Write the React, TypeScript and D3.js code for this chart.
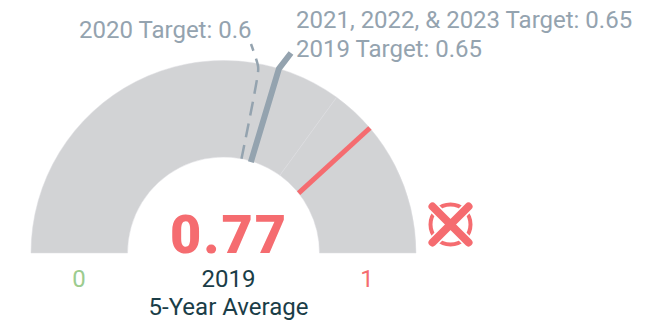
import React from "react";
import * as d3 from "d3";

const bands = [
  { from: 0, to: 0.7 },
  { from: 0.7, to: 1 },
];
const actualInner = 0.786;
const actualOuter = 0.775;
const actualLabel = "0.77";
const solidTargetPosition = 0.593;
const dashedTargetPosition = 0.56;
const targetLabels = ["2020 Target: 0.6", "2021, 2022, & 2023 Target: 0.65", "2019 Target: 0.65"];
const minLabel = "0";
const maxLabel = "1";
const yearLabel = "2019";
const averageLabel = "5-Year Average";

const W = 652, H = 322;
const cx = 223.5, cy = 253, rIn = 96, rOut = 192.5;
const red = "#f56c70", grey = "#d2d3d5", slate = "#94a3af", dark = "#1a3d47";
const font = "Roboto, sans-serif";

const angle = d3.scaleLinear().domain([0, 1]).range([-Math.PI / 2, Math.PI / 2]);
const arc = d3.arc<{ from: number; to: number }>()
  .innerRadius(rIn).outerRadius(rOut)
  .startAngle(d => angle(d.from)).endAngle(d => angle(d.to));
const pt = (v: number, r: number): [number, number] => {
  const a = angle(v);
  return [cx + r * Math.sin(a), cy - r * Math.cos(a)];
};
const line = d3.line();

export default function App() {
  return (
    <svg width={W} height={H} style={{ position: "absolute", left: 0, top: 0 }} fontFamily={font}>
      <g transform={`translate(${cx},${cy})`}>
        {bands.map((b, i) => <path key={i} d={arc(b) || ""} fill={grey} stroke="#dcdde0" strokeWidth={0.5} />)}
      </g>
      <path d={line([pt(actualInner, rIn), pt(actualOuter, rOut)]) || ""} stroke={red} strokeWidth={5} fill="none" />
      <path d={line([pt(solidTargetPosition, rIn - 1), pt(solidTargetPosition, rOut), [291, 53]]) || ""} stroke={slate} strokeWidth={6} fill="none" />
      <path d={d3.line().curve(d3.curveCatmullRom)([pt(dashedTargetPosition, rIn), pt(dashedTargetPosition, rOut - 8), [258, 66], [251, 44]]) || ""}
        stroke={slate} strokeWidth={2.5} strokeDasharray="14 8" fill="none" />
      <text x={79} y={38} fontSize={24} fill={slate}>{targetLabels[0]}</text>
      <text x={296} y={28} fontSize={24} fill={slate}>{targetLabels[1]}</text>
      <text x={296} y={57} fontSize={24} fill={slate}>{targetLabels[2]}</text>
      <text x={229} y={253} textAnchor="middle" fontSize={54} fontWeight={900} letterSpacing={2} fill={red}>{actualLabel}</text>
      <text x={79} y={287} textAnchor="middle" fontSize={24} fill="#9ccc8f">{minLabel}</text>
      <text x={367} y={287} textAnchor="middle" fontSize={24} fill={red}>{maxLabel}</text>
      <text x={228.5} y={287} textAnchor="middle" fontSize={24} fill={dark}>{yearLabel}</text>
      <text x={228.5} y={315} textAnchor="middle" fontSize={24} fill={dark}>{averageLabel}</text>
      <g transform="translate(450.5,224.5)" fill="none" stroke={red}>
        <circle r={20} strokeWidth={4} />
        <path d="M-18,-18 L18,18 M18,-18 L-18,18" stroke="#fff" strokeWidth={11} />
        <path d="M-18,-18 L18,18 M18,-18 L-18,18" strokeWidth={8} strokeLinecap="round" />
      </g>
    </svg>
  );
}
